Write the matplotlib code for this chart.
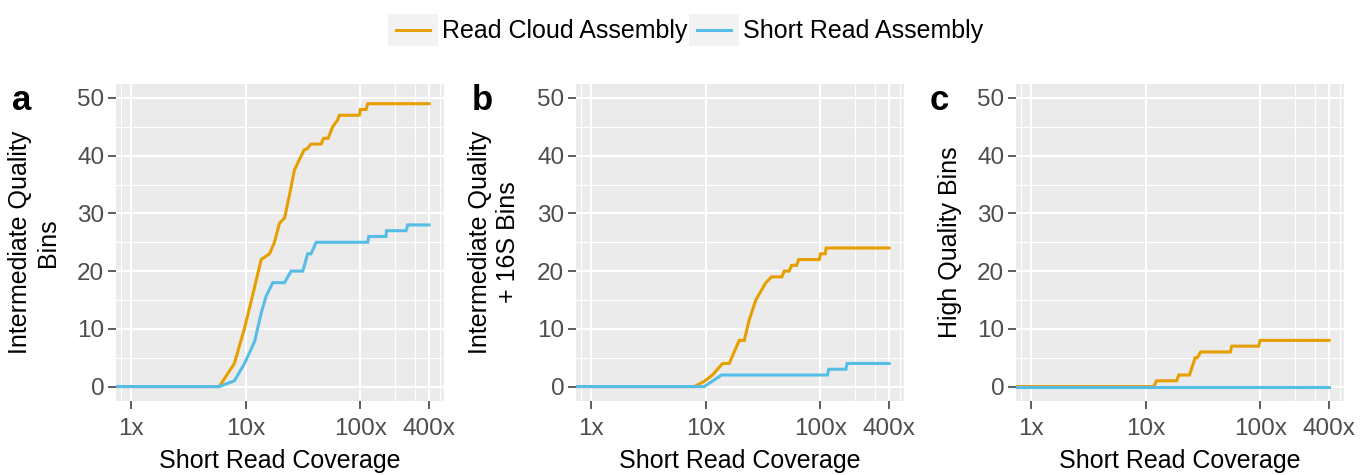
import numpy as np
import matplotlib
matplotlib.use("Agg")
import matplotlib.pyplot as plt
from matplotlib.legend_handler import HandlerLine2D
from matplotlib.patches import Rectangle
from matplotlib.lines import Line2D

plt.rcParams['font.family'] = ['Liberation Sans', 'DejaVu Sans']

# ---------------- data ----------------
series_names = ["Read Cloud Assembly", "Short Read Assembly"]
x_tick_values = [1, 10, 100, 400]
x_tick_labels = ["1x", "10x", "100x", "400x"]
y_tick_values = [0, 10, 20, 30, 40, 50]
panel_letters = ["a", "b", "c"]
y_titles = ["Intermediate Quality\nBins", "Intermediate Quality\n+ 16S Bins", "High Quality Bins"]
x_title = "Short Read Coverage"

# panel a
a_cloud_x = [0.5, 5.9, 8.0, 9.8, 11.6, 13.7, 16.2, 17.9, 19.8, 21.9, 24.2, 26.7, 29.5, 32.5, 34.5,
             37.3, 45.7, 48.0, 52.5, 57.6, 63.8, 66.0, 98.6, 100.5, 112.7, 116.6, 400]
a_cloud_y = [0, 0, 4, 10.1, 16, 22, 23, 25, 28.3, 29.2, 33.2, 37.5, 39.3, 41, 41.2,
             42, 42, 43, 43, 45, 46.2, 47, 47, 48, 48, 49, 49]
a_short_x = [0.5, 5.9, 8.0, 9.8, 12.0, 13.7, 15.1, 17.3, 21.9, 25.0, 31.6, 34.9, 37.3, 41.4,
             116.6, 119, 168, 170, 252, 260, 400]
a_short_y = [0, 0, 1, 4, 7.8, 12.7, 15.6, 18, 18, 20, 20, 23, 23, 25,
             25, 26, 26, 27, 27, 28, 28]

# panel b
b_cloud_x = [0.5, 8.0, 9.75, 11.5, 14.1, 16.1, 19.7, 21.8, 24.1, 27.5, 33.6, 37.7, 46.4, 48.6,
             53.6, 56.4, 62.4, 64.9, 98.3, 101, 110.9, 113, 400]
b_cloud_y = [0, 0, 0.9, 2, 4, 4, 8, 8, 11.6, 15, 18, 19, 19, 20,
             20, 21, 21, 22, 22, 23, 23, 24, 24]
b_short_x = [0.5, 9.75, 13.8, 116, 119, 168, 172, 400]
b_short_y = [0, 0, 2, 2, 3, 3, 4, 4]

# panel c
c_cloud_x = [0.5, 11.8, 12.5, 18.7, 19.5, 24.2, 27.1, 28.3, 30.3, 55, 56.5, 97.3, 100, 400]
c_cloud_y = [0, 0, 1, 1, 2, 2, 5, 5, 6, 6, 7, 7, 8, 8]
c_short_x = [0.5, 400]
c_short_y = [0, 0]

panels = [
    ((a_cloud_x, a_cloud_y), (a_short_x, a_short_y)),
    ((b_cloud_x, b_cloud_y), (b_short_x, b_short_y)),
    ((c_cloud_x, c_cloud_y), (c_short_x, c_short_y)),
]

colors = ["#E69F00", "#56BDE6"]
minor_x = [0.82, 200, 300, 500]

# ---------------- figure ----------------
W, H = 1371, 475
fig = plt.figure(figsize=(W / 100, H / 100), dpi=100)

panel_left_px = [116, 576, 1016]
panel_w_px = 328
panel_top_px, panel_bot_px = 83.5, 401
ylabel_x = [-0.172, -0.172, -0.165]
letter_x_px = [12, 472, 930]

lo = 10 ** (0 - 0.05 * np.log10(400))
hi = 10 ** (np.log10(400) * 1.05)

line_handles = None
for i, (left, pdata) in enumerate(zip(panel_left_px, panels)):
    ax = fig.add_axes([left / W, 1 - panel_bot_px / H, panel_w_px / W,
                       (panel_bot_px - panel_top_px) / H])
    ax.set_facecolor("#EBEBEB")
    for s in ax.spines.values():
        s.set_visible(False)
    ax.set_xscale("log")
    ax.set_xlim(lo, hi)
    ax.set_ylim(-2.5, 52.5)
    ax.set_xticks(x_tick_values)
    ax.set_xticklabels(x_tick_labels)
    ax.set_xticks(minor_x, minor=True)
    ax.set_yticks(y_tick_values)
    ax.set_yticks([5, 15, 25, 35, 45], minor=True)
    ax.grid(which="major", color="white", linewidth=1.5)
    ax.grid(which="minor", color="white", linewidth=0.8)
    ax.set_axisbelow(True)
    ax.tick_params(which="major", length=5.5, width=1.1, color="#333333",
                   labelcolor="#4D4D4D", labelsize=17.5)
    ax.tick_params(axis="x", which="major", pad=7)
    ax.tick_params(axis="y", which="major", pad=3)
    ax.tick_params(which="minor", length=0)
    ax.xaxis.set_minor_formatter(matplotlib.ticker.NullFormatter())
    hs = []
    for (xs, ys), c, name in zip(pdata, colors, series_names):
        h, = ax.plot(xs, ys, color=c, linewidth=2.2, label=name, solid_joinstyle="miter")
        hs.append(h)
    line_handles = hs
    ax.set_xlabel(x_title, fontsize=18, labelpad=6)
    ax.set_ylabel(y_titles[i], fontsize=18, multialignment="center")
    ax.yaxis.set_label_coords(ylabel_x[i], 0.5)
    fig.text(letter_x_px[i] / W, 1 - 110 / H, panel_letters[i], fontsize=25,
             fontweight="bold", ha="left", va="baseline")


class KeyHandler(HandlerLine2D):
    def create_artists(self, legend, orig_handle, xdescent, ydescent, width, height,
                       fontsize, trans):
        rect = Rectangle((-xdescent, -ydescent), width, height, facecolor="#F2F2F2",
                         edgecolor="none", transform=trans)
        pad = width * 0.16
        yc = height / 2 - ydescent
        ln = Line2D([-xdescent + pad, -xdescent + width - pad], [yc, yc],
                    color=orig_handle.get_color(), linewidth=orig_handle.get_linewidth(),
                    transform=trans)
        return [rect, ln]


fig.legend(handles=line_handles, labels=series_names, loc="center",
           bbox_to_anchor=(0.5, 1 - 30 / H), ncol=2, frameon=False, fontsize=18,
           handler_map={Line2D: KeyHandler()}, handlelength=2.0, handleheight=1.6,
           handletextpad=0.15, columnspacing=0.1, borderaxespad=0)

fig.savefig("out.png", dpi=100)
